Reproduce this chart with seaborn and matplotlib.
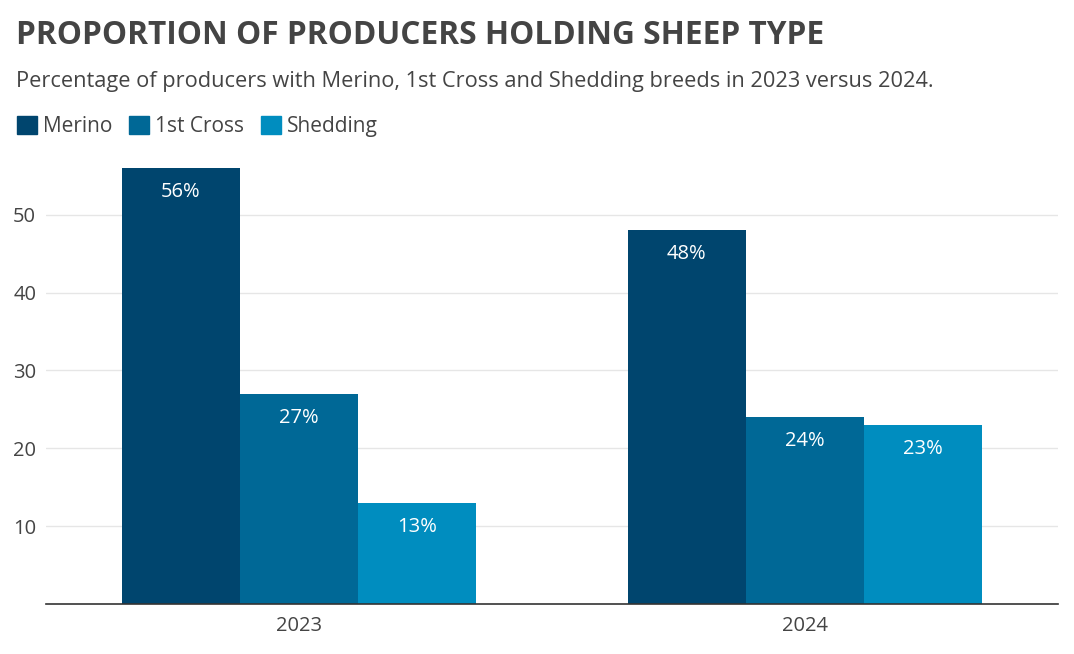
import numpy as np
import pandas as pd
import matplotlib
matplotlib.use('Agg')
import matplotlib.pyplot as plt
import seaborn as sns

# Datos
anios = ['2023', '2024']
razas = ['Merino', '1st Cross', 'Shedding']
merino = [56, 48]
cruza = [27, 24]
shedding = [13, 23]
colores = ['#00456e', '#006896', '#008dbf']

df = pd.DataFrame({
    'anio': anios * 3,
    'raza': [r for r in razas for _ in anios],
    'valor': merino + cruza + shedding,
})

sns.set_style('white')
plt.rcParams['font.family'] = ['Open Sans', 'DejaVu Sans']

fig = plt.figure(figsize=(10.74, 6.54), dpi=100)
ax = fig.add_axes([0.0428, 0.0765, 0.9422, 0.6785])

sns.barplot(data=df, x='anio', y='valor', hue='raza', hue_order=razas,
            palette=colores, width=0.7, gap=0, saturation=1, ax=ax,
            legend=False, linewidth=0)

for cont in ax.containers:
    vals = [b.get_height() for b in cont]
    ax.bar_label(cont, labels=[f'{v:.0f}%' for v in vals], padding=-24.5,
                 color='white', fontsize=14.5)

ax.set_xlim(-0.5, 1.5)
ax.set_ylim(0, 57)
ax.set_yticks([10, 20, 30, 40, 50])
ax.yaxis.grid(True, color='#e6e6e6', linewidth=1)
ax.set_axisbelow(True)
for s in ['top', 'right', 'left']:
    ax.spines[s].set_visible(False)
ax.spines['bottom'].set_color('#333333')
ax.spines['bottom'].set_linewidth(1.2)
ax.tick_params(axis='both', length=0, labelsize=14.5, labelcolor='#444444')
ax.tick_params(axis='x', pad=9)
ax.tick_params(axis='y', pad=7)
ax.set_xlabel('')
ax.set_ylabel('')

fig.text(0.015, 0.945, 'PROPORTION OF PRODUCERS HOLDING SHEEP TYPE',
         fontsize=22.8, fontweight='bold', color='#444444', va='center')
fig.text(0.015, 0.876,
         'Percentage of producers with Merino, 1st Cross and Shedding breeds in 2023 versus 2024.',
         fontsize=15.65, color='#444444', va='center')

handles = [plt.Rectangle((0, 0), 1, 1, color=c) for c in colores]
fig.legend(handles, razas, loc='center left', bbox_to_anchor=(0.008, 0.807),
           ncol=3, frameon=False, fontsize=15, handlelength=0.95,
           handleheight=0.95, handletextpad=0.3, columnspacing=0.8,
           labelcolor='#444444', borderaxespad=0)

fig.savefig('out.png', dpi=100)
